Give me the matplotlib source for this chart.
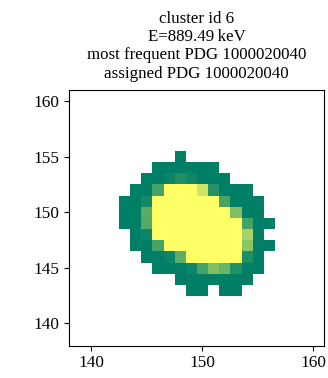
import numpy as np
import matplotlib
matplotlib.use("Agg")
import matplotlib.pyplot as plt

# Hit map of one cluster: each row holds the first x index and the
# normalised pixel values along that row (nan = no hit).
row_y = [155, 154, 153, 152, 151, 150, 149, 148, 147, 146, 145, 144, 143]
row_x0 = [148, 146, 145, 144, 143, 143, 143, 144, 144, 145, 146, 148, 149]
nan = np.nan
row_values = [
    [0.0],
    [0.0, 0.0, 0.0, 0.0, 0.0, 0.0],
    [0.0, 0.0, 0.04, 0.12, 0.06, 0.0, 0.0, 0.0],
    [0.0, 0.0, 0.28, 1.0, 1.0, 1.0, 0.8, 0.15, 0.0, 0.0, 0.0],
    [0.0, 0.0, 0.08, 1.0, 1.0, 1.0, 1.0, 1.0, 1.0, 0.28, 0.0, 0.0, 0.0],
    [0.0, 0.0, 0.35, 1.0, 1.0, 1.0, 1.0, 1.0, 1.0, 1.0, 0.5, 0.0, 0.0],
    [0.0, 0.0, 0.33, 1.0, 1.0, 1.0, 1.0, 1.0, 1.0, 1.0, 1.0, 0.27, 0.0, 0.0],
    [0.0, 0.05, 1.0, 1.0, 1.0, 1.0, 1.0, 1.0, 1.0, 1.0, 0.65, 0.0],
    [0.0, 0.0, 0.28, 1.0, 1.0, 1.0, 1.0, 1.0, 1.0, 1.0, 0.55, 0.0, 0.0],
    [0.0, 0.0, 0.05, 0.37, 1.0, 1.0, 1.0, 1.0, 1.0, 0.12, 0.0],
    [0.0, 0.0, 0.0, 0.05, 0.27, 0.5, 0.42, 0.14, 0.0, 0.0],
    [0.0, 0.0, 0.0, 0.0, 0.0, 0.0, 0.0],
    [0.0, 0.0, nan, 0.0, 0.0],
]

cluster_id = 6
energy_kev = 889.49
pdg_most_frequent = 1000020040
pdg_assigned = 1000020040

x_ticks = [140, 150, 160]
y_ticks = [140, 145, 150, 155, 160]
axis_lim = (138, 161)

# Assemble the sparse rows into a dense image
x_min = min(row_x0)
x_max = max(x0 + len(v) - 1 for x0, v in zip(row_x0, row_values))
y_min, y_max = min(row_y), max(row_y)
img = np.full((y_max - y_min + 1, x_max - x_min + 1), np.nan)
for y, x0, vals in zip(row_y, row_x0, row_values):
    for i, v in enumerate(vals):
        img[y - y_min, x0 - x_min + i] = v

plt.rcParams["font.family"] = ["Liberation Serif", "DejaVu Serif"]
plt.rcParams["mathtext.fontset"] = "stix"

fig = plt.figure(figsize=(3.28, 3.78), dpi=100)
ax = fig.add_axes([69 / 328, 1 - 345.5 / 378, 255 / 328, 255.5 / 378])

ax.imshow(img, origin="lower", cmap="summer", vmin=0, vmax=1,
          interpolation="nearest",
          extent=[x_min - 0.5, x_max + 0.5, y_min - 0.5, y_max + 0.5])
ax.set_xlim(*axis_lim)
ax.set_ylim(*axis_lim)
ax.set_aspect("auto")
ax.set_xticks(x_ticks)
ax.set_yticks(y_ticks)
ax.tick_params(labelsize=12.4, length=3.5, width=0.8)

title = (f"cluster id {cluster_id}\n"
         f"E={energy_kev:.2f}\u2009keV\n"
         f"most frequent PDG {pdg_most_frequent}\n"
         f"assigned PDG {pdg_assigned}")
ax.set_title(title, fontsize=12.2, linespacing=1.18, pad=9)

fig.savefig("out.png", dpi=100)
